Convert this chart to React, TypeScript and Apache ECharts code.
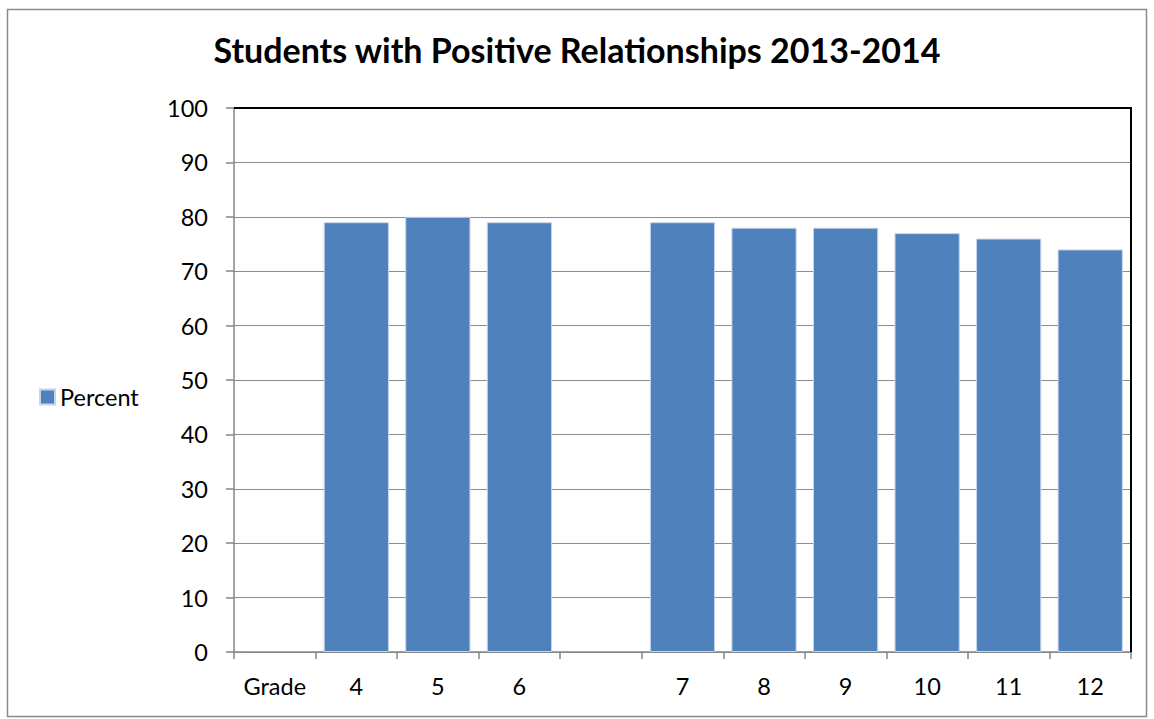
import React, { useEffect, useRef } from "react";
import * as echarts from "echarts";

const categories = ["Grade", "4", "5", "6", "", "7", "8", "9", "10", "11", "12"];
const percentValues: (number | null)[] = [null, 79, 80, 79, null, 79, 78, 78, 77, 76, 74];
const yTicks = { min: 0, max: 100, interval: 10 };
const titleText = "Students with Positive Relationships 2013-2014";
const seriesName = "Percent";

export default function App() {
  const ref = useRef<HTMLDivElement>(null);
  useEffect(() => {
    document.body.style.margin = "0";
    const chart = echarts.init(ref.current!, undefined, { renderer: "svg" });
    const font = "Lato, 'Open Sans', sans-serif";
    chart.setOption({
      animation: false,
      backgroundColor: "#ffffff",
      textStyle: { fontFamily: font },
      title: {
        text: titleText,
        left: "center",
        top: 27,
        textStyle: { fontSize: 34, fontWeight: "bold", color: "#000", fontFamily: font },
      },
      legend: {
        data: [seriesName],
        orient: "vertical",
        left: 34,
        top: 380,
        itemWidth: 15,
        itemHeight: 15,
        itemGap: 6,
        icon: "rect",
        textStyle: { fontSize: 23.5, color: "#000", fontFamily: font },
      },
      grid: { left: 234, top: 108, right: 23, bottom: 67, containLabel: false },
      xAxis: {
        type: "category",
        data: categories,
        boundaryGap: true,
        axisLine: { show: true, lineStyle: { color: "#868686", width: 1.5 } },
        axisTick: { show: true, interval: 0, alignWithLabel: false, length: 7, lineStyle: { color: "#868686", width: 1.5 } },
        axisLabel: { interval: 0, fontSize: 23.5, color: "#000", margin: 22, fontFamily: font },
        splitLine: { show: false },
      },
      yAxis: {
        type: "value",
        min: yTicks.min,
        max: yTicks.max,
        interval: yTicks.interval,
        axisLine: { show: true, lineStyle: { color: "#868686", width: 1.5 } },
        axisTick: { show: true, length: 8, lineStyle: { color: "#868686", width: 1.5 } },
        axisLabel: { fontSize: 23.5, color: "#000", margin: 26, fontFamily: font },
        splitLine: { show: true, lineStyle: { color: "#8c8c8c", width: 1.2 } },
      },
      graphic: [
        {
          type: "rect",
          shape: { x: 7.5, y: 9.5, width: 1139, height: 707 },
          style: { fill: "none", stroke: "#8a8a8a", lineWidth: 1.5 },
          z: 0,
        },
        {
          type: "polyline",
          shape: { points: [[234, 108], [1131, 108], [1131, 652]] },
          style: { fill: "none", stroke: "#000", lineWidth: 2 },
          z: 10,
        },
      ],
      series: [
        {
          name: seriesName,
          type: "bar",
          data: percentValues,
          barCategoryGap: "20%",
          itemStyle: { color: "#4F81BD", borderColor: "#c5d5ea", borderWidth: 1 },
        },
      ],
    });
    return () => chart.dispose();
  }, []);
  return <div ref={ref} style={{ width: 1154, height: 719 }} />;
}
